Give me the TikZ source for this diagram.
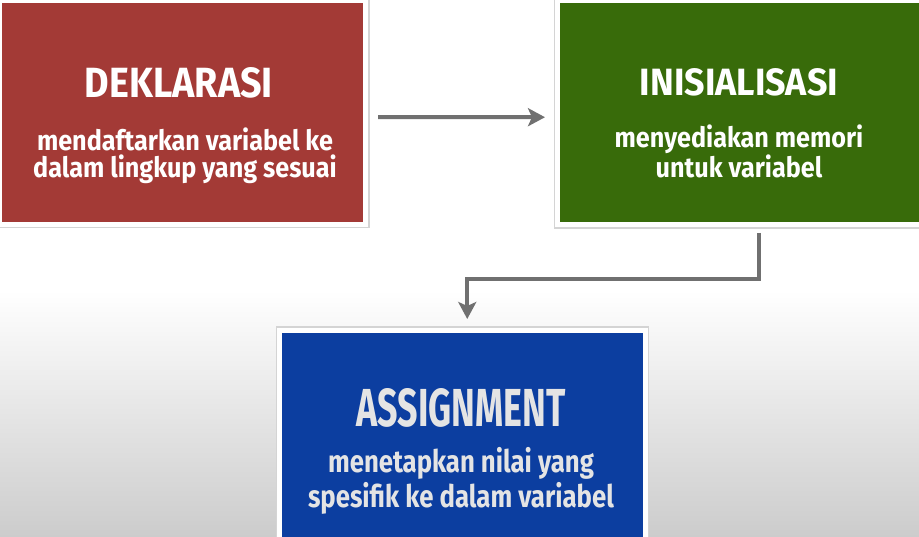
\documentclass[tikz,border=0pt]{standalone}
\usepackage{fontspec}
\setmainfont{Fira Sans}
\newfontfamily\headfont{Fira Sans}
\newfontfamily\bodyfont{Fira Sans}[FakeStretch=0.90]
\newfontfamily\bodynarrow{Fira Sans}[FakeStretch=0.83]
\usetikzlibrary{arrows.meta,shadows}
\definecolor{deklred}{RGB}{163,58,54}
\definecolor{inisgreen}{RGB}{56,107,10}
\definecolor{asgnblue}{RGB}{12,62,160}
\definecolor{flowgray}{RGB}{112,112,112}
\definecolor{asgntext}{RGB}{228,228,228}
\tikzset{
  stagebox/.style={draw=white,line width=5pt,inner sep=0pt,
    preaction={draw=black!17,line width=8pt},
    drop shadow={shadow xshift=2pt,shadow yshift=-2pt,opacity=0.18,fill=black}},
  stagehead/.style={anchor=north,inner sep=0pt,text=white,font=\headfont\bfseries},
  stagetext/.style={anchor=north,inner sep=0pt,text=white,align=center,
    font=\bodyfont\bfseries\fontsize{28}{27}\selectfont},
  flow/.style={draw=flowgray,line width=4pt,-{Stealth[length=17pt,width=18pt,inset=4pt]}}
}
\begin{document}
\begin{tikzpicture}[x=1pt,y=-1pt]
  \useasboundingbox (0,0) rectangle (919,537);
  \fill[white] (0,0) rectangle (919,537);
  \shade[top color=white,bottom color=black!20] (0,290) rectangle (919,537);
  % the three stages
  \node[stagebox,fill=deklred,minimum width=366pt,minimum height=224pt] (dekl) at (182.5,112.5) {};
  \node[stagebox,fill=inisgreen,minimum width=402.5pt,minimum height=224.5pt] (inis) at (758.75,112.75) {};
  \node[stagebox,fill=asgnblue,minimum width=365.5pt,minimum height=214.5pt] (asgn) at (462.25,437.75) {};
  \node[stagehead] (deklhead) at (179,67) {\resizebox{188pt}{30pt}{DEKLARASI}};
  \node[stagetext] (deklsub) at (185,128) {mendaftarkan variabel ke\\dalam lingkup yang sesuai};
  \node[stagehead] (inishead) at (739,68) {\resizebox{198pt}{27pt}{INISIALISASI}};
  \node[stagetext] (inissub) at (739,125) {menyediakan memori\\untuk variabel};
  \node[stagehead,text=asgntext] (asgnhead) at (461,388) {\resizebox{209pt}{38pt}{ASSIGNMENT}};
  \node[stagetext,text=asgntext,font=\bodynarrow\bfseries\fontsize{31}{35}\selectfont] (asgnsub) at (461,447) {menetapkan nilai yang\\spesifik ke dalam variabel};
  % arrows
  \draw[flow,shorten <=10pt,shorten >=10pt] ([yshift=-4.5pt]dekl.east) -- ([yshift=-4.5pt]inis.west);
  \draw[flow,shorten <=5.5pt,shorten >=9pt] (inis.south) -- ++(0,51.5) -| ([xshift=5pt]asgn.north);
\end{tikzpicture}
\end{document}
